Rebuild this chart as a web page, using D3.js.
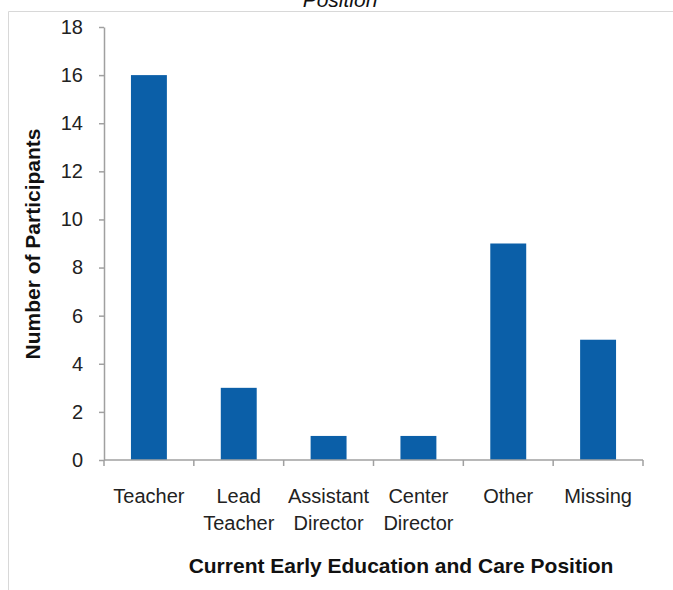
<!DOCTYPE html>
<html><head><meta charset="utf-8">
<script src="https://cdn.jsdelivr.net/npm/d3@7"></script>
<style>body{margin:0;background:#fff}svg{display:block}</style>
</head><body>
<script>
const categories = [["Teacher"],["Lead","Teacher"],["Assistant","Director"],["Center","Director"],["Other"],["Missing"]];
const values = [16, 3, 1, 1, 9, 5];
const yTicks = [0,2,4,6,8,10,12,14,16,18];
const titleText = "Position";
const yTitle = "Number of Participants";
const xTitle = "Current Early Education and Care Position";

const W = 673, H = 590;
const FONT = "'Liberation Sans', Arial, sans-serif";
const svg = d3.select("body").append("svg").attr("width", W).attr("height", H)
  .style("font-family", FONT);

// frame
svg.append("path").attr("d", "M8.5,590 V11.5 H673").attr("fill","none").attr("stroke","#d8d8d8").attr("stroke-width",1);

svg.append("text").attr("x", 340).attr("y", 7).attr("text-anchor","middle")
  .style("font-size","21px").style("font-style","italic").attr("fill","#111").text(titleText);

const x = d3.scaleBand().domain(d3.range(categories.length)).range([104, 643]).paddingInner(0.6).paddingOuter(0.3);
const y = d3.scaleLinear().domain([0, 18]).range([460, 27]);

// bars
svg.selectAll("rect.bar").data(values).join("rect").attr("class","bar")
  .attr("x", (d,i) => x(i)).attr("width", x.bandwidth())
  .attr("y", d => y(d)).attr("height", d => y(0) - y(d))
  .attr("fill", "#0b5fa8");

const axisColor = "#a0a0a0";
// y axis
const yAxis = svg.append("g").attr("transform","translate(104,0)")
  .call(d3.axisLeft(y).tickValues(yTicks).tickSize(5).tickSizeOuter(0).tickPadding(16));
yAxis.select(".domain").attr("stroke", axisColor).attr("stroke-width",1.5);
yAxis.selectAll(".tick line").attr("stroke", axisColor).attr("stroke-width",1.5);
yAxis.selectAll(".tick text").style("font-size","20px").attr("fill","#222").attr("font-family",FONT);

// x axis line and ticks at band boundaries
const boundaries = d3.range(categories.length + 1).map(i => 104 + i * (643 - 104) / categories.length);
svg.append("line").attr("x1",104).attr("x2",643).attr("y1",y(0)).attr("y2",y(0))
  .attr("stroke",axisColor).attr("stroke-width",1.5);
svg.selectAll("line.xt").data(boundaries).join("line").attr("class","xt")
  .attr("x1",d=>d).attr("x2",d=>d).attr("y1",y(0)).attr("y2",y(0)+6)
  .attr("stroke",axisColor).attr("stroke-width",1.5);

// category labels
const lab = svg.selectAll("text.cat").data(categories).join("text").attr("class","cat")
  .attr("text-anchor","middle").style("font-size","20px").attr("fill","#222");
lab.each(function(d,i){
  const t = d3.select(this);
  d.forEach((line,j) => {
    t.append("tspan").attr("x", x(i) + x.bandwidth()/2).attr("y", 503 + j*27).text(line);
  });
});

// axis titles
svg.append("text").attr("transform","translate(40,244) rotate(-90)").attr("text-anchor","middle")
  .style("font-size","21px").style("font-weight","bold").attr("fill","#111").text(yTitle);
svg.append("text").attr("x", 401).attr("y", 573).attr("text-anchor","middle")
  .style("font-size","21px").style("font-weight","bold").attr("fill","#111").text(xTitle);
</script>
</body></html>
